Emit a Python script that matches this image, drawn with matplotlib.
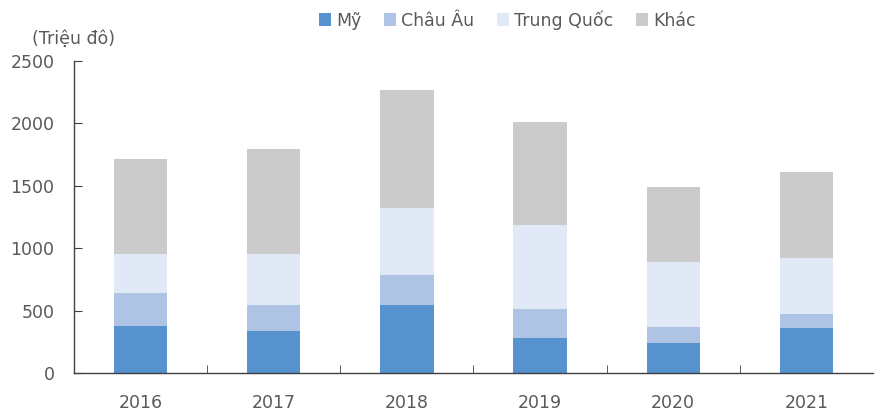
import numpy as np
import matplotlib.pyplot as plt

# data (million USD)
years = ["2016", "2017", "2018", "2019", "2020", "2021"]
my = [381, 341, 546, 285, 242, 365]
chau_au = [261, 205, 240, 232, 131, 107]
trung_quoc = [310, 410, 534, 669, 515, 453]
khac = [762, 833, 944, 822, 602, 683]

series_names = ["Mỹ", "Châu Âu", "Trung Quốc", "Khác"]
colors = ["#5592CE", "#AFC3E5", "#E1E8F6", "#CBCBCB"]

plt.rcParams['font.family'] = ['DejaVu Sans']
text_color = "#595959"

fig = plt.figure(figsize=(8.75, 4.12), dpi=100)
ax = fig.add_axes([0.0846, 0.094, 0.913, 0.759])

x = np.arange(len(years))
bottom = np.zeros(len(years))
for name, vals, col in zip(series_names, [my, chau_au, trung_quoc, khac], colors):
    ax.bar(x, vals, 0.4, bottom=bottom, color=col, label=name, zorder=2)
    bottom += np.array(vals)

ax.set_xlim(-0.5, len(years) - 0.5)
ax.set_ylim(0, 2500)
ax.set_yticks(range(0, 2501, 500))
ax.set_xticks(x)
ax.set_xticklabels(years)
ax.set_xticks(x[:-1] + 0.5, minor=True)

for s in ["top", "right"]:
    ax.spines[s].set_visible(False)
for s in ["left", "bottom"]:
    ax.spines[s].set_color("#404040")
    ax.spines[s].set_linewidth(1.0)

ax.tick_params(axis="y", direction="in", length=6, color="#404040",
               labelsize=12.5, labelcolor=text_color, pad=14)
ax.tick_params(axis="x", which="major", length=0, labelsize=12.5,
               labelcolor=text_color, pad=15)
ax.tick_params(axis="x", which="minor", direction="in", length=6, color="#404040")

fig.text(0.037, 0.905, "(Triệu đô)", fontsize=12.5, color=text_color,
         ha="left", va="center")

fig.legend(loc="center", bbox_to_anchor=(0.58, 0.952), ncol=4, frameon=False,
           fontsize=12.5, labelcolor=text_color, handlelength=0.7,
           handleheight=0.7, handletextpad=0.3, columnspacing=1.3)

fig.savefig("out.png", dpi=100)
